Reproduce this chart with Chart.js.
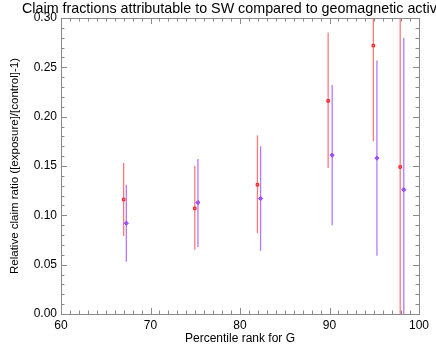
<!DOCTYPE html>
<html>
<head>
<meta charset="utf-8">
<script src="https://cdn.jsdelivr.net/npm/chart.js@4"></script>
<style>
  html, body { margin: 0; padding: 0; background: #fff; }
  #wrap { width: 436px; height: 354px; }
</style>
</head>
<body>
<div id="wrap"><canvas id="c"></canvas></div>
<script>
// values
var titleText = 'Claim fractions attributable to SW compared to geomagnetic activity';

var redX  = [67.0, 74.95, 81.95, 89.85, 94.9, 97.9];
var redY  = [0.116, 0.107, 0.131, 0.216, 0.272, 0.149];
var redLo = [0.079, 0.065, 0.082, 0.148, 0.175, -0.05];
var redHi = [0.153, 0.150, 0.181, 0.285, 0.36, 0.35];

var purpX  = [67.3, 75.3, 82.3, 90.3, 95.3, 98.3];
var purpY  = [0.092, 0.113, 0.117, 0.161, 0.158, 0.126];
var purpLo = [0.053, 0.068, 0.064, 0.090, 0.059, -0.03];
var purpHi = [0.131, 0.157, 0.170, 0.232, 0.257, 0.280];

var FONT = '"Liberation Sans", Arial, Helvetica, sans-serif';
var AXIS = '#8a8a8a';

function toPoints(xs, ys) {
    return xs.map(function (x, i) { return { x: x, y: ys[i] }; });
}

// error bars + IDL style box with inward ticks
var decor = {
    id: 'decor',
    beforeDatasetsDraw: function (chart) {
        var ctx = chart.ctx, a = chart.chartArea;
        var xs = chart.scales.x, ys = chart.scales.y;
        ctx.save();
        ctx.beginPath();
        ctx.rect(a.left, a.top, a.right - a.left, a.bottom - a.top);
        ctx.clip();
        chart.data.datasets.forEach(function (ds) {
            ctx.strokeStyle = ds.errColor;
            ctx.lineWidth = 1.3;
            ds.data.forEach(function (p, i) {
                var px = xs.getPixelForValue(p.x);
                ctx.beginPath();
                ctx.moveTo(px, ys.getPixelForValue(ds.lo[i]));
                ctx.lineTo(px, ys.getPixelForValue(ds.hi[i]));
                ctx.stroke();
            });
        });
        ctx.restore();
    },
    afterDraw: function (chart) {
        var ctx = chart.ctx, a = chart.chartArea;
        var xs = chart.scales.x, ys = chart.scales.y;
        ctx.save();
        ctx.strokeStyle = AXIS;
        ctx.lineWidth = 1;
        ctx.strokeRect(Math.round(a.left) + 0.5, Math.round(a.top) + 0.5,
            Math.round(a.right - a.left), Math.round(a.bottom - a.top));
        ctx.beginPath();
        for (var v = 60; v <= 100; v++) {
            var len = (v % 10 === 0) ? 6 : 3.5;
            var px = Math.round(xs.getPixelForValue(v)) + 0.5;
            ctx.moveTo(px, a.bottom); ctx.lineTo(px, a.bottom - len);
            ctx.moveTo(px, a.top); ctx.lineTo(px, a.top + len);
        }
        for (var k = 0; k <= 30; k++) {
            var len2 = (k % 5 === 0) ? 6 : 3.5;
            var py = Math.round(ys.getPixelForValue(k / 100)) + 0.5;
            ctx.moveTo(a.left, py); ctx.lineTo(a.left + len2, py);
            ctx.moveTo(a.right, py); ctx.lineTo(a.right - len2, py);
        }
        ctx.stroke();
        ctx.fillStyle = '#000';
        ctx.font = '14.3px ' + FONT;
        ctx.textBaseline = 'alphabetic';
        ctx.textAlign = 'left';
        ctx.fillText(titleText, 22, 13);
        ctx.restore();
    }
};

new Chart(document.getElementById('c'), {
    type: 'scatter',
    plugins: [decor],
    data: {
        datasets: [{
            label: 'SW',
            data: toPoints(redX, redY),
            lo: redLo, hi: redHi,
            errColor: '#ff7a7a',
            pointStyle: 'rect',
            pointRadius: 1.8,
            backgroundColor: '#ff7070',
            borderColor: '#ff1a1a',
            borderWidth: 1
        }, {
            label: 'G',
            data: toPoints(purpX, purpY),
            lo: purpLo, hi: purpHi,
            errColor: '#b678ff',
            pointStyle: 'rectRot',
            pointRadius: 2.1,
            backgroundColor: '#a050ff',
            borderColor: '#9a40ff',
            borderWidth: 1
        }]
    },
    options: {
        responsive: true,
        maintainAspectRatio: false,
        animation: false,
        layout: { padding: { top: 18, right: 17, left: 0, bottom: 0 } },
        plugins: {
            legend: { display: false },
            title: { display: false },
            tooltip: { enabled: false }
        },
        scales: {
            x: {
                type: 'linear',
                min: 60, max: 100,
                afterFit: function (s) { s.height = 40; },
                grid: { display: false, drawTicks: false },
                border: { display: false },
                ticks: { stepSize: 10, color: '#000', padding: 4, font: { family: FONT, size: 12 } },
                title: {
                    display: true, text: 'Percentile rank for G', color: '#000',
                    font: { family: FONT, size: 12 }, padding: { top: 0, bottom: 8 }
                }
            },
            y: {
                min: 0, max: 0.30,
                afterFit: function (s) { s.width = 61; },
                grid: { display: false, drawTicks: false },
                border: { display: false },
                ticks: {
                    stepSize: 0.05, color: '#000', padding: 4,
                    font: { family: FONT, size: 12 },
                    callback: function (v) { return v.toFixed(2); }
                },
                title: {
                    display: true, text: 'Relative claim ratio ([exposure]/[control]-1)', color: '#000',
                    font: { family: FONT, size: 11.5 }, padding: { top: 8, bottom: 0 }
                }
            }
        }
    }
});
</script>
</body>
</html>
